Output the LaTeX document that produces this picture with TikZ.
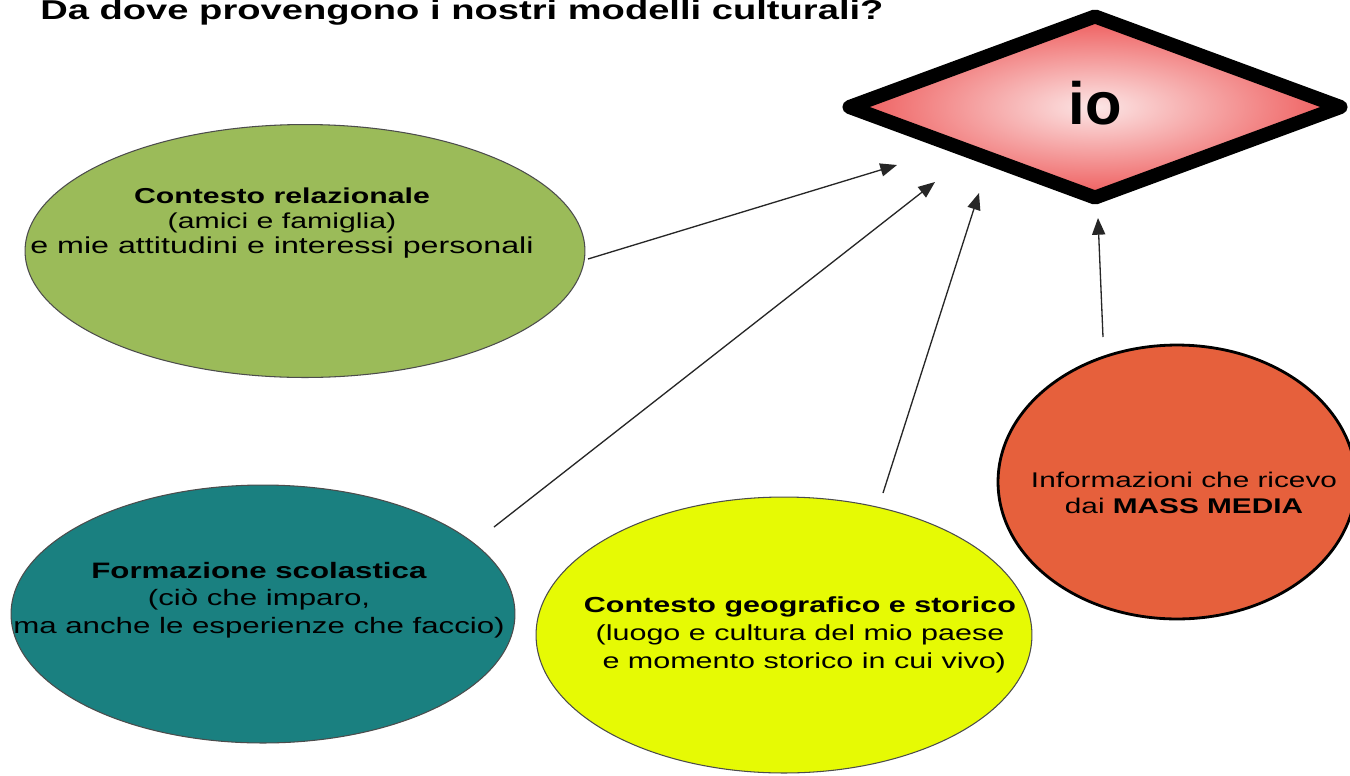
\documentclass[tikz,border=0pt]{standalone}
\usepackage{fontspec}
\setmainfont{Liberation Sans}
\newfontfamily\widefont{Liberation Sans}[FakeStretch=1.4]
\usetikzlibrary{shapes.geometric,arrows.meta}
\definecolor{cgreen}{HTML}{9BBB59}
\definecolor{cteal}{HTML}{1A8080}
\definecolor{cyellow}{HTML}{E6FA04}
\definecolor{corange}{HTML}{E6603C}
\definecolor{cpinkin}{HTML}{FCE6E6}
\definecolor{credout}{HTML}{EE5A5A}
\tikzset{
  blob/.style={ellipse, draw=black!70, line width=0.6pt, inner sep=0pt},
  blobtext/.style={align=center, text=black},
  conn/.style={draw=black!85, line width=0.75pt, -{Triangle[length=9.5pt,width=7.5pt]}},
}
\begin{document}
\begin{tikzpicture}[x=0.02cm,y=-0.02cm]
\useasboundingbox (0,0) rectangle (1350,775);
\fill[white] (0,0) rectangle (1350,775);

% title
\node[anchor=base west, inner sep=0pt, font=\widefont\bfseries\fontsize{15.5}{18}\selectfont] (title) at (40,19) {Da dove provengono i nostri modelli culturali?};

% diamond "io"
\node[diamond, draw=black, line width=8pt, line join=round,
      minimum width=9.94cm, minimum height=3.74cm, inner sep=0pt,
      shading=radial, inner color=cpinkin, outer color=credout] (io) at (1095,107) {};
\node[font=\bfseries\fontsize{34}{36}\selectfont] (iolabel) at (1095,103) {io};

% ellipses
\node[blob, fill=cgreen, minimum width=11.2cm, minimum height=5.06cm] (rel) at (305,251) {};
\node[blob, fill=cteal, minimum width=10.08cm, minimum height=5.16cm] (scuola) at (263,614) {};
\node[blob, fill=cyellow, minimum width=9.92cm, minimum height=5.52cm] (geo) at (784,635) {};
\node[ellipse, draw=black, line width=1.6pt, fill=corange, minimum width=7.16cm, minimum height=5.48cm, inner sep=0pt] (media) at (1177,482) {};

% texts
\node[blobtext, font=\widefont\fontsize{13.1}{14.2}\selectfont] (reltext) at (282,223) {{\fontsize{12.3}{14.2}\selectfont\textbf{Contesto relazionale}}\\{\fontsize{12.3}{14.2}\selectfont(amici e famiglia)}\\e mie attitudini e interessi personali};
\node[blobtext, font=\widefont\fontsize{12.7}{15.8}\selectfont] (scuolatext) at (259,600) {\textbf{Formazione scolastica}\\(ciò che imparo,\\ma anche le esperienze che faccio)};
\node[blobtext, font=\widefont\fontsize{12.4}{15.9}\selectfont] (geotext) at (800,635) {\textbf{Contesto geografico e storico}\\(luogo e cultura del mio paese\\\ e momento storico in cui vivo)};
\node[blobtext, font=\widefont\fontsize{12.1}{15}\selectfont] (mediatext) at (1184,493) {Informazioni che ricevo\\dai \textbf{MASS MEDIA}};

% connector endpoints
\coordinate (relout) at (588,259);
\coordinate (scuolaout) at (494,527);
\coordinate (geoout) at (883,493);
\coordinate (mediaout) at (1103,337);
\coordinate (ioin1) at (897,165);
\coordinate (ioin2) at (935,182);
\coordinate (ioin3) at (979,193);
\coordinate (ioin4) at (1098,218);

\draw[conn] (relout) -- (ioin1);
\draw[conn] (scuolaout) -- (ioin2);
\draw[conn] (geoout) -- (ioin3);
\draw[conn] (mediaout) -- (ioin4);
\end{tikzpicture}
\end{document}
